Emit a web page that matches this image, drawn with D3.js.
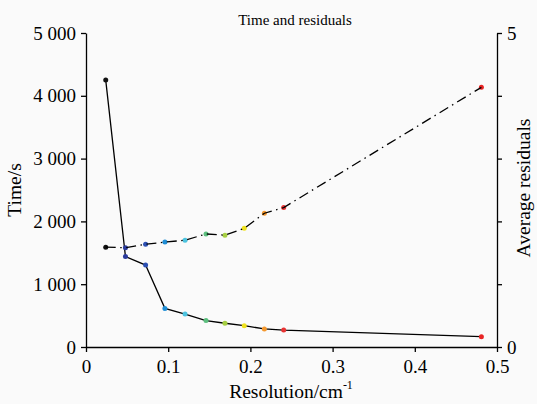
<!DOCTYPE html>
<html>
<head>
<meta charset="utf-8">
<script src="https://cdn.jsdelivr.net/npm/d3@7"></script>
<style>
  body { margin: 0; background: #fafafa; }
  svg { display: block; font-family: "Liberation Serif", "Times New Roman", serif; }
</style>
</head>
<body>
<div id="chart"></div>
<script>
// resolution (cm^-1), computation time (s), average residuals
const resolution = [0.024, 0.048, 0.0725, 0.096, 0.1205, 0.146, 0.169, 0.1925, 0.217, 0.2405, 0.481]
const timeSec = [4250, 1440, 1305, 615, 525, 420, 378, 340, 288, 270, 164]
const residuals = [1.59, 1.58, 1.635, 1.67, 1.70, 1.80, 1.78, 1.89, 2.13, 2.22, 4.135]
const pointColors = ['#111111', '#2a3a9c', '#2c4fb2', '#1f8ed6', '#4cc3df', '#5cbf7e',
  '#a6cf42', '#efe21e', '#f4982e', '#e83434', '#e82424']

const xTicks = [0, 0.1, 0.2, 0.3, 0.4, 0.5]
const timeTicks = [0, 1000, 2000, 3000, 4000, 5000]
const residTicks = [0, 1, 2, 3, 4, 5]

const width = 537, height = 404
const margin = { top: 33, right: 40, bottom: 57, left: 86 }

const svg = d3.select('#chart').append('svg')
  .attr('width', width)
  .attr('height', height)

svg.append('rect').attr('width', width).attr('height', height).attr('fill', '#fafafa')

const x = d3.scaleLinear().domain([0, 0.5]).range([margin.left, width - margin.right])
const yTime = d3.scaleLinear().domain([0, 5000]).range([height - margin.bottom, margin.top])
const yRes = d3.scaleLinear().domain([0, 5]).range([height - margin.bottom, margin.top])

const spaced = d3.formatLocale({ decimal: '.', thousands: ' ', grouping: [3], currency: ['', ''] }).format(',')

function styleAxis(g) {
  g.select('.domain').attr('stroke', '#000').attr('stroke-width', 1.3)
  g.selectAll('.tick line').attr('stroke', '#000').attr('stroke-width', 1.3)
  g.selectAll('.tick text').attr('fill', '#000').attr('font-size', '19px')
  g.attr('font-family', null)
}

// axes
svg.append('g')
  .attr('transform', `translate(0,${height - margin.bottom})`)
  .call(d3.axisBottom(x).tickValues(xTicks).tickSize(5).tickSizeOuter(0).tickPadding(7.5)
    .tickFormat(d => d === 0 ? '0' : d.toString()))
  .call(styleAxis)

svg.append('g')
  .attr('transform', `translate(${margin.left},0)`)
  .call(d3.axisLeft(yTime).tickValues(timeTicks).tickSize(5).tickSizeOuter(0).tickPadding(5)
    .tickFormat(spaced))
  .call(styleAxis)

svg.append('g')
  .attr('transform', `translate(${width - margin.right},0)`)
  .call(d3.axisRight(yRes).tickValues(residTicks).tickSize(5).tickSizeOuter(0).tickPadding(5)
    .tickFormat(d => (d === 0 || d === 5) ? String(d) : ''))
  .call(styleAxis)

// time curve
svg.append('path')
  .datum(resolution.map((r, i) => [r, timeSec[i]]))
  .attr('fill', 'none')
  .attr('stroke', '#000')
  .attr('stroke-width', 1.3)
  .attr('d', d3.line().x(d => x(d[0])).y(d => yTime(d[1])))

svg.selectAll('.pt-time')
  .data(resolution)
  .enter().append('circle')
  .attr('class', 'pt-time')
  .attr('cx', d => x(d))
  .attr('cy', (d, i) => yTime(timeSec[i]))
  .attr('r', 2.5)
  .attr('fill', (d, i) => pointColors[i])

// residual curve (dash-dot)
svg.selectAll('.pt-res')
  .data(resolution)
  .enter().append('circle')
  .attr('class', 'pt-res')
  .attr('cx', d => x(d))
  .attr('cy', (d, i) => yRes(residuals[i]))
  .attr('r', 2.5)
  .attr('fill', (d, i) => pointColors[i])

svg.append('path')
  .datum(resolution.map((r, i) => [r, residuals[i]]))
  .attr('fill', 'none')
  .attr('stroke', '#000')
  .attr('stroke-width', 1.3)
  .attr('stroke-dasharray', '10,4.5,1.5,4.5')
  .attr('d', d3.line().x(d => x(d[0])).y(d => yRes(d[1])))

// labels
svg.append('text')
  .attr('x', 295).attr('y', 25)
  .attr('text-anchor', 'middle')
  .attr('font-size', '15px')
  .text('Time and residuals')

const xl = svg.append('text')
  .attr('x', 291).attr('y', 398)
  .attr('text-anchor', 'middle')
  .attr('font-size', '19.5px')
xl.append('tspan').text('Resolution/cm')
xl.append('tspan').attr('font-size', '12px').attr('dy', -9).text('-1')

svg.append('text')
  .attr('transform', 'translate(21,190) rotate(-90)')
  .attr('text-anchor', 'middle')
  .attr('font-size', '19.5px')
  .text('Time/s')

svg.append('text')
  .attr('transform', 'translate(530,188) rotate(-90)')
  .attr('text-anchor', 'middle')
  .attr('font-size', '19.5px')
  .text('Average residuals')
</script>
</body>
</html>
